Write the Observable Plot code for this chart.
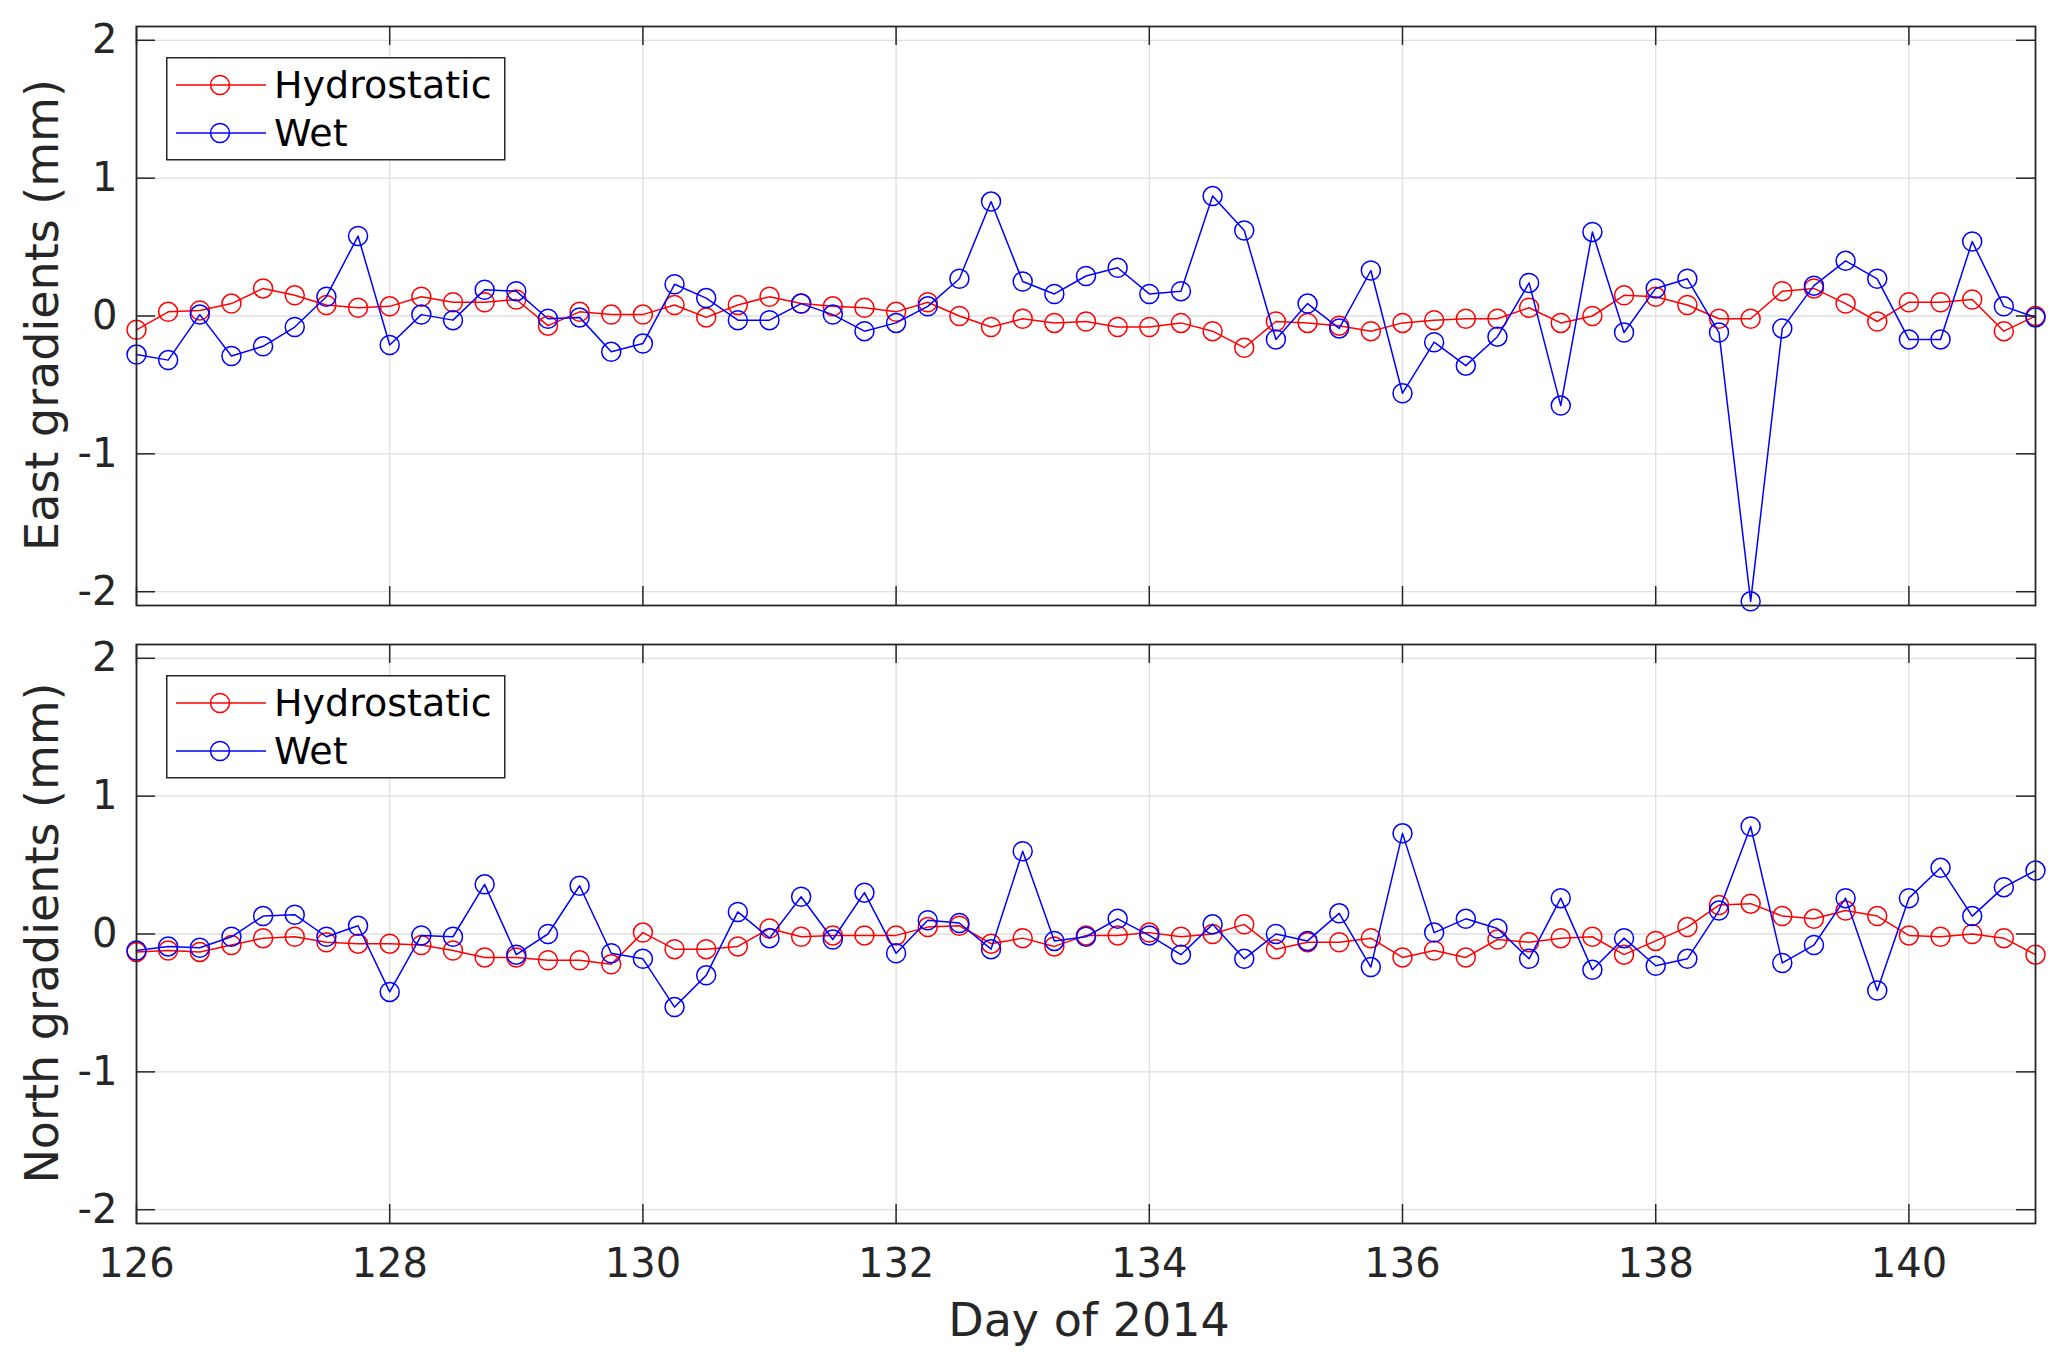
<!DOCTYPE html>
<html>
<head>
<meta charset="utf-8">
<script src="https://cdn.jsdelivr.net/npm/d3@7"></script>
<script src="https://cdn.jsdelivr.net/npm/@observablehq/plot@0.6"></script>
<style>
  body { margin: 0; background: white; }
  #wrap { position: relative; width: 2067px; height: 1368px; font-family: "DejaVu Sans", sans-serif; color: #262626; }
  #wrap svg { display: block; }
  .ylab { position: absolute; left: 42px; font-size: 46px; line-height: 1; white-space: nowrap;
          transform: translate(-50%, -50%) rotate(-90deg); }
  .xlab { position: absolute; left: 1089px; top: 1297px; font-size: 46px; line-height: 1; white-space: nowrap;
          transform: translateX(-50%); }
  .legend { position: absolute; left: 166px; }
</style>
</head>
<body>
<div id="wrap">
  <div id="top"></div>
  <div id="bottom"></div>
</div>
<script>
const days = [126, 126.25, 126.5, 126.75, 127, 127.25, 127.5, 127.75, 128, 128.25, 128.5, 128.75,
  129, 129.25, 129.5, 129.75, 130, 130.25, 130.5, 130.75, 131, 131.25, 131.5, 131.75,
  132, 132.25, 132.5, 132.75, 133, 133.25, 133.5, 133.75, 134, 134.25, 134.5, 134.75,
  135, 135.25, 135.5, 135.75, 136, 136.25, 136.5, 136.75, 137, 137.25, 137.5, 137.75,
  138, 138.25, 138.5, 138.75, 139, 139.25, 139.5, 139.75, 140, 140.25, 140.5, 140.75, 141];

const eastHydro = [-0.10, 0.03, 0.04, 0.09, 0.20, 0.15, 0.08, 0.06, 0.07, 0.14, 0.10, 0.10,
  0.12, -0.07, 0.03, 0.01, 0.01, 0.08, -0.01, 0.08, 0.14, 0.09, 0.07, 0.06,
  0.03, 0.10, 0.00, -0.08, -0.02, -0.05, -0.04, -0.08, -0.08, -0.05, -0.11, -0.23,
  -0.04, -0.05, -0.07, -0.11, -0.05, -0.03, -0.02, -0.02, 0.06, -0.05, 0.00, 0.15,
  0.14, 0.08, -0.02, -0.02, 0.18, 0.20, 0.09, -0.04, 0.10, 0.10, 0.12, -0.11, 0.00];

const eastWet = [-0.28, -0.32, 0.01, -0.29, -0.22, -0.08, 0.14, 0.58, -0.21, 0.01, -0.03, 0.19,
  0.18, -0.02, -0.01, -0.26, -0.20, 0.23, 0.13, -0.03, -0.03, 0.09, 0.01, -0.11,
  -0.05, 0.07, 0.27, 0.83, 0.25, 0.16, 0.29, 0.35, 0.16, 0.18, 0.87, 0.62,
  -0.17, 0.09, -0.09, 0.33, -0.56, -0.19, -0.36, -0.15, 0.24, -0.65, 0.61, -0.12,
  0.20, 0.27, -0.12, -2.07, -0.09, 0.22, 0.40, 0.27, -0.17, -0.17, 0.54, 0.07, -0.01];

const northHydro = [-0.13, -0.12, -0.13, -0.08, -0.03, -0.02, -0.06, -0.07, -0.07, -0.08, -0.12, -0.17,
  -0.17, -0.19, -0.19, -0.22, 0.01, -0.11, -0.11, -0.09, 0.04, -0.02, -0.01, -0.01,
  -0.01, 0.05, 0.06, -0.07, -0.03, -0.09, -0.01, -0.01, 0.01, -0.02, 0.00, 0.07,
  -0.11, -0.06, -0.06, -0.03, -0.17, -0.12, -0.17, -0.04, -0.06, -0.03, -0.02, -0.15,
  -0.05, 0.05, 0.21, 0.22, 0.13, 0.11, 0.17, 0.13, -0.01, -0.02, 0.00, -0.03, -0.15];

const northWet = [-0.12, -0.09, -0.10, -0.02, 0.13, 0.14, -0.02, 0.06, -0.42, -0.01, -0.02, 0.36,
  -0.15, 0.00, 0.35, -0.14, -0.18, -0.53, -0.30, 0.16, -0.03, 0.27, -0.04, 0.30,
  -0.14, 0.10, 0.08, -0.11, 0.60, -0.05, -0.02, 0.11, -0.01, -0.15, 0.07, -0.18,
  0.00, -0.05, 0.15, -0.24, 0.73, 0.01, 0.11, 0.04, -0.18, 0.26, -0.26, -0.03,
  -0.23, -0.18, 0.17, 0.78, -0.21, -0.08, 0.26, -0.41, 0.26, 0.48, 0.13, 0.34, 0.46];

const xTicks = [126, 128, 130, 132, 134, 136, 138, 140];
const yTicks = [-2, -1, 0, 1, 2];
const seriesNames = ["Hydrostatic", "Wet"];
const seriesColors = ["#ff0000", "#0000ff"];

const W = 2067, mLeft = 136, mRight = 32, innerH = 579, tickLen = 19;
const innerW = W - mLeft - mRight;
const ink = "#262626";

function panel(hydro, wet, mTop, mBottom, showX) {
  const rows = days.map((d, i) => ({day: d, hydro: hydro[i], wet: wet[i]}));
  const marks = [
    Plot.gridX(xTicks, {stroke: "#dfdfdf", strokeOpacity: 1, strokeWidth: 1.3}),
    Plot.gridY(yTicks, {stroke: "#dfdfdf", strokeOpacity: 1, strokeWidth: 1.3}),
    Plot.lineY(rows, {x: "day", y: "hydro", stroke: seriesColors[0], strokeWidth: 1.5}),
    Plot.dot(rows, {x: "day", y: "hydro", r: 9.5, stroke: seriesColors[0], strokeWidth: 1.5, fill: "none"}),
    Plot.lineY(rows, {x: "day", y: "wet", stroke: seriesColors[1], strokeWidth: 1.5}),
    Plot.dot(rows, {x: "day", y: "wet", r: 9.5, stroke: seriesColors[1], strokeWidth: 1.5, fill: "none"}),
    // inward ticks on all four sides, matlab style
    Plot.ruleX(xTicks, {x: d => d, stroke: ink, strokeWidth: 1.5, insetBottom: innerH - tickLen}),
    Plot.ruleX(xTicks, {x: d => d, stroke: ink, strokeWidth: 1.5, insetTop: innerH - tickLen}),
    Plot.ruleY(yTicks, {y: d => d, stroke: ink, strokeWidth: 1.5, insetRight: innerW - tickLen}),
    Plot.ruleY(yTicks, {y: d => d, stroke: ink, strokeWidth: 1.5, insetLeft: innerW - tickLen}),
    Plot.frame({stroke: ink, strokeWidth: 1.8}),
    Plot.axisY(yTicks, {tickSize: 0, tickPadding: 19, tickFormat: d => String(d), label: null, fill: ink})
  ];
  if (showX) {
    marks.push(Plot.axisX(xTicks, {tickSize: 0, tickPadding: 25, tickFormat: d => String(d), label: null, fill: ink}));
  }
  return Plot.plot({
    width: W,
    height: mTop + innerH + mBottom,
    marginTop: mTop,
    marginBottom: mBottom,
    marginLeft: mLeft,
    marginRight: mRight,
    x: {domain: [126, 141], axis: showX ? undefined : null},
    y: {domain: [-2.1, 2.1]},
    style: {fontFamily: "DejaVu Sans", fontSize: "40px", color: ink, background: "white", overflow: "visible"},
    marks
  });
}

function legend(top) {
  const ns = "http://www.w3.org/2000/svg";
  const svg = d3.create("svg")
    .attr("class", "legend")
    .attr("width", 340).attr("height", 104)
    .style("position", "absolute").style("left", "166px").style("top", top + "px");
  svg.append("rect").attr("x", 0.75).attr("y", 0.75).attr("width", 338).attr("height", 102)
    .attr("fill", "white").attr("stroke", ink).attr("stroke-width", 1.5);
  seriesNames.forEach((name, i) => {
    const cy = 28 + i * 48;
    svg.append("line").attr("x1", 10).attr("x2", 100).attr("y1", cy).attr("y2", cy)
      .attr("stroke", seriesColors[i]).attr("stroke-width", 1.5);
    svg.append("circle").attr("cx", 54).attr("cy", cy).attr("r", 9.5)
      .attr("fill", "none").attr("stroke", seriesColors[i]).attr("stroke-width", 1.5);
    svg.append("text").attr("x", 108).attr("y", cy + 13).text(name)
      .attr("font-family", "DejaVu Sans").attr("font-size", 38).attr("fill", "#000");
  });
  return svg.node();
}

const wrap = document.getElementById("wrap");
document.getElementById("top").append(panel(eastHydro, eastWet, 26, 29, false));
document.getElementById("bottom").append(panel(northHydro, northWet, 10, 145, true));

wrap.append(legend(57));
wrap.append(legend(675));

const yl1 = document.createElement("div");
yl1.className = "ylab"; yl1.style.top = "315px"; yl1.textContent = "East gradients (mm)";
const yl2 = document.createElement("div");
yl2.className = "ylab"; yl2.style.top = "933px"; yl2.textContent = "North gradients (mm)";
const xl = document.createElement("div");
xl.className = "xlab"; xl.textContent = "Day of 2014";
wrap.append(yl1, yl2, xl);
</script>
</body>
</html>
